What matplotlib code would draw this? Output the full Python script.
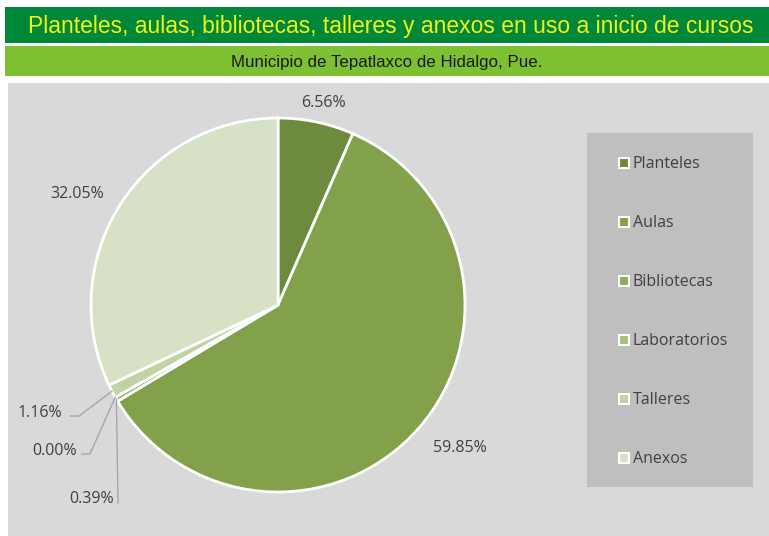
import matplotlib.pyplot as plt
from matplotlib.patches import Rectangle
import numpy as np

categories = ["Planteles", "Aulas", "Bibliotecas", "Laboratorios", "Talleres", "Anexos"]
shares = [6.56, 59.85, 0.39, 0.00, 1.16, 32.05]
colors = ["#6e8b3d", "#83a14b", "#8fad55", "#a3bf78", "#bfd3a4", "#d6e1c6"]

title = "Planteles, aulas, bibliotecas, talleres y anexos en uso a inicio de cursos"
subtitle = "Municipio de Tepatlaxco de Hidalgo, Pue."

W, H = 769, 536
fig = plt.figure(figsize=(W / 100, H / 100), dpi=100)
fig.patch.set_facecolor("white")


def px_rect(x0, y0, x1, y1, color, z=-1):
    # rectangle given in pixel coords (top-left origin)
    fig.patches.append(Rectangle((x0 / W, 1 - y1 / H), (x1 - x0) / W, (y1 - y0) / H,
                                 transform=fig.transFigure, facecolor=color,
                                 edgecolor="none", zorder=z))


# header bars and plot area
px_rect(5, 7, 769, 43, "#00883a")
px_rect(5, 46, 769, 76, "#7dc031")
px_rect(8, 83, 769, 536, "#d9d9d9")
px_rect(587, 133, 753, 487, "#bfbfbf")

fig.text((5 + 769) / 2 / W + 0.005, 1 - 26 / H, title, ha="center", va="center",
         color="#f2f21a", fontsize=16.5, family="Liberation Sans")
fig.text((5 + 769) / 2 / W, 1 - 62 / H, subtitle, ha="center", va="center",
         color="#1a1a1a", fontsize=12.2, family="Liberation Sans")

# pie axes: center (278, 305), radius 187 px
cx, cy, r = 278, 305, 187
ax = fig.add_axes([(cx - r) / W, (H - cy - r) / H, 2 * r / W, 2 * r / H])
ax.set_facecolor("none")
wedges, _ = ax.pie(shares, colors=colors, startangle=90, counterclock=False,
                   radius=1, wedgeprops=dict(edgecolor="white", linewidth=2))
ax.set_xlim(-1, 1)
ax.set_ylim(-1, 1)
ax.axis("off")

lbl_font = dict(fontsize=11.5, color="#404040", family="Open Sans")


def to_data(px, py):
    return (px - cx) / r, (cy - py) / r


# big slices: plain labels
big = {0: (323, 103), 1: (460, 448), 5: (77, 194)}
for i, (px, py) in big.items():
    x, y = to_data(px, py)
    ax.text(x, y, f"{shares[i]:.2f}%", ha="center", va="center", clip_on=False, **lbl_font)

# small slices: labels with leader lines
cum = np.cumsum([0] + shares)
small = {4: ((40, 413), (70, 416), (79, 416)),
         3: ((55, 451), (82, 454), (90, 454)),
         2: ((92, 499), (118, 503), (118, 503))}
for i, (tpos, l0, l1) in small.items():
    mid = 90 - 360 * (cum[i] + shares[i] / 2) / 100
    ex, ey = np.cos(np.radians(mid)), np.sin(np.radians(mid))
    x0, y0 = to_data(*l0)
    x1, y1 = to_data(*l1)
    ax.plot([x0, x1, ex], [y0, y1, ey], color="#a6a6a6", lw=1, clip_on=False)
    tx, ty = to_data(*tpos)
    ax.text(tx, ty, f"{shares[i]:.2f}%", ha="center", va="center", clip_on=False, **lbl_font)

# legend
for i, (name, c) in enumerate(zip(categories, colors)):
    y = 1 - (162 + i * 59) / H
    fig.patches.append(Rectangle((619 / W, y - 5.5 / H), 10 / W, 10 / H,
                                 transform=fig.transFigure, facecolor=c,
                                 edgecolor="white", linewidth=1.5, zorder=2))
    fig.text(633 / W, y - 2 / H, name, ha="left", va="center", **lbl_font)

fig.savefig("out.png", dpi=100)
